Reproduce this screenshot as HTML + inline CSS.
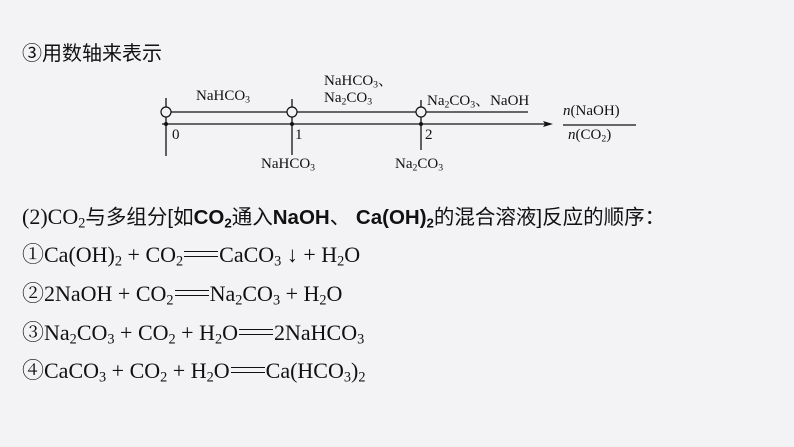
<!DOCTYPE html>
<html><head><meta charset="utf-8"><style>
body{margin:0;width:794px;height:447px;background:#f3f3f5;position:relative;overflow:hidden;font-family:"Liberation Serif","Noto Serif CJK SC",serif;color:#111}
.t{position:absolute;white-space:nowrap}
.eq{font-size:22px}
sub{font-size:0.65em;vertical-align:-0.25em;line-height:0}
.dd{display:inline-block;width:34px;height:4px;border-top:1.5px solid #111;border-bottom:1.5px solid #111;vertical-align:0.22em;margin:0 1px}
.cjk{font-family:"Liberation Sans","Noto Sans CJK SC",sans-serif}
.s{font-size:15px}
</style></head><body>
<div class="t cjk" style="left:22px;top:37px;font-size:20px">③用数轴来表示</div>
<svg style="position:absolute;left:0;top:0" width="794" height="447">
<g stroke="#111" stroke-width="1.3" fill="none">
<line x1="166" y1="98" x2="166" y2="156"/>
<line x1="292" y1="99" x2="292" y2="155"/>
<line x1="421" y1="100" x2="421" y2="150"/>
<line x1="166" y1="112" x2="528" y2="112"/>
<line x1="162" y1="124" x2="548" y2="124"/>
<line x1="563" y1="125" x2="636" y2="125"/>
</g>
<polygon points="553,124 543,121 545,124 543,127" fill="#111"/>
<g fill="#f3f3f5" stroke="#111" stroke-width="1.2">
<circle cx="166" cy="112" r="5"/><circle cx="292" cy="112" r="5"/><circle cx="421" cy="112" r="5"/>
</g>
<g fill="#111"><circle cx="166" cy="124" r="2"/><circle cx="292" cy="124" r="2"/><circle cx="421" cy="124" r="2"/></g>
</svg>
<div class="t s" style="left:196px;top:88px">NaHCO<sub>3</sub></div>
<div class="t s" style="left:324px;top:69px">NaHCO<sub>3</sub>、</div>
<div class="t s" style="left:324px;top:90px">Na<sub>2</sub>CO<sub>3</sub></div>
<div class="t s" style="left:427px;top:89px">Na<sub>2</sub>CO<sub>3</sub>、NaOH</div>
<div class="t s" style="left:172px;top:127px">0</div>
<div class="t s" style="left:295px;top:127px">1</div>
<div class="t s" style="left:425px;top:127px">2</div>
<div class="t s" style="left:261px;top:156px">NaHCO<sub>3</sub></div>
<div class="t s" style="left:395px;top:156px">Na<sub>2</sub>CO<sub>3</sub></div>
<div class="t s" style="left:563px;top:103px"><i>n</i>(NaOH)</div>
<div class="t s" style="left:568px;top:127px"><i>n</i>(CO<sub>2</sub>)</div>
<div class="t eq" style="left:22px;top:200px">(2)CO<sub>2</sub><span class="cjk" style="font-size:20.5px">与多组分[如<b>CO<sub>2</sub></b>通入<b>NaOH</b>、 <b>Ca(OH)<sub>2</sub></b>的混合溶液]反应的顺序：</span></div>
<div class="t eq" style="left:22px;top:238px">①Ca(OH)<sub>2</sub> + CO<sub>2</sub><span class="dd"></span>CaCO<sub>3</sub> ↓ + H<sub>2</sub>O</div>
<div class="t eq" style="left:22px;top:277px">②2NaOH + CO<sub>2</sub><span class="dd"></span>Na<sub>2</sub>CO<sub>3</sub> + H<sub>2</sub>O</div>
<div class="t eq" style="left:22px;top:316px">③Na<sub>2</sub>CO<sub>3</sub> + CO<sub>2</sub> + H<sub>2</sub>O<span class="dd"></span>2NaHCO<sub>3</sub></div>
<div class="t eq" style="left:22px;top:354px">④CaCO<sub>3</sub> + CO<sub>2</sub> + H<sub>2</sub>O<span class="dd"></span>Ca(HCO<sub>3</sub>)<sub>2</sub></div>
</body></html>
